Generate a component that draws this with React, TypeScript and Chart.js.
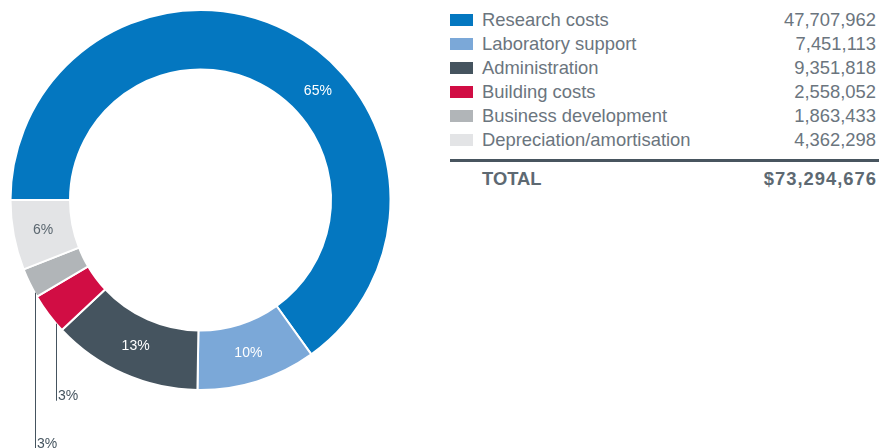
import React, { useEffect, useRef } from "react";
import { Chart, registerables } from "chart.js";

Chart.register(...registerables);

const categories = [
  "Research costs",
  "Laboratory support",
  "Administration",
  "Building costs",
  "Business development",
  "Depreciation/amortisation",
];
const values = [47707962, 7451113, 9351818, 2558052, 1863433, 4362298];
const totalLabel = "TOTAL";
const totalValue = "$73,294,676";
const colors = ["#0477c0", "#7ba8d8", "#45545f", "#d10d44", "#b1b5b8", "#e3e4e6"];

// label placement style per slice: inside at fraction of slice angle, or leader line drop
const labelStyles = [
  { mode: "inside", at: 0.585, color: "#ffffff" },
  { mode: "inside", at: 0.5, color: "#ffffff" },
  { mode: "inside", at: 0.5, color: "#ffffff" },
  { mode: "leader", at: 0.2, drop: 77, color: "#45545f" },
  { mode: "leader", at: 0.15, drop: 156, color: "#45545f" },
  { mode: "inside", at: 0.5, color: "#5b6770" },
];

const FONT = "'Liberation Sans', Arial, Helvetica, sans-serif";

const sliceLabels = {
  id: "sliceLabels",
  afterDatasetsDraw(chart: any) {
    const ctx = chart.ctx;
    const meta = chart.getDatasetMeta(0);
    const total = values.reduce((a, b) => a + b, 0);
    ctx.save();
    ctx.font = `14px ${FONT}`;
    meta.data.forEach((arc: any, i: number) => {
      const p = arc.getProps(["x", "y", "startAngle", "endAngle", "innerRadius", "outerRadius"], true);
      const pct = Math.round((values[i] / total) * 100) + "%";
      const s: any = labelStyles[i];
      const a = p.startAngle + (p.endAngle - p.startAngle) * s.at;
      if (s.mode === "inside") {
        const r = (p.innerRadius + p.outerRadius) / 2;
        ctx.fillStyle = s.color;
        ctx.textAlign = "center";
        ctx.textBaseline = "middle";
        ctx.fillText(pct, p.x + r * Math.cos(a), p.y + r * Math.sin(a));
      } else {
        const x0 = Math.round(p.x + p.outerRadius * Math.cos(a)) + 0.5;
        const y0 = p.y + p.outerRadius * Math.sin(a);
        const y1 = y0 + s.drop;
        ctx.strokeStyle = s.color;
        ctx.lineWidth = 1;
        ctx.beginPath();
        ctx.moveTo(x0, y0);
        ctx.lineTo(x0, y1);
        ctx.stroke();
        ctx.fillStyle = s.color;
        ctx.textAlign = "left";
        ctx.textBaseline = "alphabetic";
        ctx.fillText(pct, x0 + 1.5, y1 - 0.5);
      }
    });
    ctx.restore();
  },
};

export default function App() {
  const ref = useRef<HTMLCanvasElement>(null);
  useEffect(() => {
    if (!ref.current) return;
    const chart = new Chart(ref.current, {
      type: "doughnut",
      data: {
        labels: categories,
        datasets: [
          {
            data: values,
            backgroundColor: colors,
            borderColor: "#ffffff",
            borderWidth: 2,
            hoverOffset: 0,
          },
        ],
      },
      options: {
        animation: false,
        responsive: true,
        maintainAspectRatio: false,
        rotation: -90,
        radius: 190,
        cutout: `${(130.5 / 190) * 100}%`,
        layout: { padding: { bottom: 48 } },
        plugins: { legend: { display: false }, tooltip: { enabled: false } },
        events: [],
      } as any,
      plugins: [sliceLabels],
    });
    return () => chart.destroy();
  }, []);

  const textColor = "#6b757e";
  return (
    <div style={{ position: "absolute", left: 0, top: 0, width: 880, height: 448, background: "#fff", overflow: "hidden" }}>
      <div style={{ position: "absolute", left: 0, top: 0, width: 401, height: 448 }}>
        <canvas ref={ref} />
      </div>
      <div style={{ position: "absolute", left: 450, top: 8, width: 429, fontFamily: FONT, color: textColor }}>
        {categories.map((c, i) => (
          <div key={c} style={{ display: "flex", alignItems: "center", height: 24, fontSize: 18.4, lineHeight: "24px" }}>
            <div style={{ width: 23, height: 12, background: colors[i], marginRight: 9, flex: "none" }} />
            <div style={{ flex: 1 }}>{c}</div>
            <div style={{ paddingRight: 3 }}>{values[i].toLocaleString("en-US")}</div>
          </div>
        ))}
        <div style={{ height: 3, background: "#48555f", marginTop: 7 }} />
        <div style={{ display: "flex", height: 24, lineHeight: "24px", marginTop: 5, fontWeight: 700, fontSize: 18.4, color: "#5d6972" }}>
          <div style={{ marginLeft: 32, flex: 1 }}>{totalLabel}</div>
          <div style={{ paddingRight: 2, letterSpacing: 1 }}>{totalValue}</div>
        </div>
      </div>
    </div>
  );
}
